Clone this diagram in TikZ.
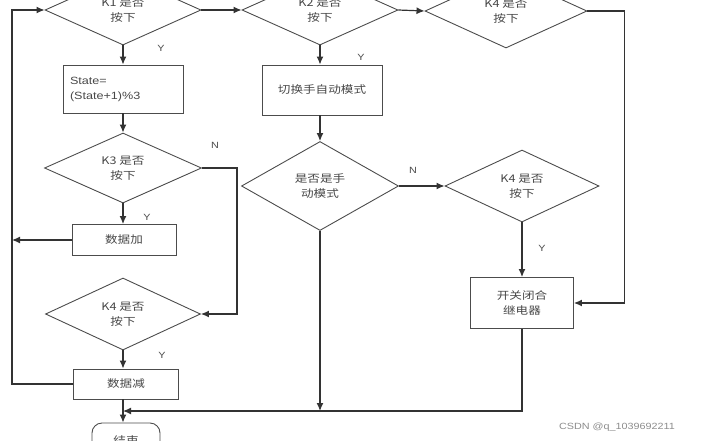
\documentclass[tikz,border=0pt]{standalone}
\usepackage{fontspec}
\setmainfont{Liberation Sans}[FakeStretch=1.2]
\newfontfamily\cjk{Noto Sans CJK SC}[FakeStretch=1.2]
\usetikzlibrary{shapes.geometric,arrows.meta}
\begin{document}
\begin{tikzpicture}[x=1pt,y=-1pt,
  every node/.style={font=\fontsize{10.5}{15}\selectfont, text=black!72},
  dia/.style={draw=black!70, line width=0.9pt, diamond, inner sep=0pt, align=center},
  boxn/.style={draw=black!70, line width=0.9pt, rectangle, inner sep=0pt, align=center},
  arr/.style={draw=black!80, line width=1.2pt, -{Latex[length=8pt,width=7pt]}},
  ln/.style={draw=black!80, line width=1.2pt},
  lab/.style={font=\fontsize{9}{10}\selectfont, text=black!70}]
\useasboundingbox (0,0) rectangle (705,440);
\clip (0,0) rectangle (705,440);
% top row
\node[dia, minimum width=156pt, minimum height=70pt] (d1) at (123,10) {\cjk K1 是否\\\cjk 按下};
\node[dia, minimum width=156pt, minimum height=70pt] (d2) at (320,10) {\cjk K2 是否\\\cjk 按下};
\node[dia, minimum width=162pt, minimum height=74pt] (d3) at (506,11) {\cjk K4 是否\\\cjk 按下};
% left column
\node[boxn, minimum width=120pt, minimum height=48pt, text width=106pt, align=left] (b1) at (123,89) {State=\\(State+1)\%3};
\node[dia, minimum width=157pt, minimum height=70pt] (d4) at (123,168) {\cjk K3 是否\\\cjk 按下};
\node[boxn, minimum width=104pt, minimum height=31pt] (b2) at (124,240) {\cjk 数据加};
\node[dia, minimum width=155pt, minimum height=72pt] (d5) at (123,314) {\cjk K4 是否\\\cjk 按下};
\node[boxn, minimum width=105pt, minimum height=30pt] (b3) at (126,384) {\cjk 数据减};
\node[boxn, rounded corners=10pt, minimum width=68pt, minimum height=34pt] (e) at (126,440) {\cjk 结束};
% middle column
\node[boxn, minimum width=120pt, minimum height=50pt] (b4) at (322,90) {\cjk 切换手自动模式};
\node[dia, minimum width=157pt, minimum height=89pt] (d6) at (320,186) {\cjk 是否是手\\\cjk 动模式};
% right column
\node[dia, minimum width=154pt, minimum height=72pt] (d7) at (522,186) {\cjk K4 是否\\\cjk 按下};
\node[boxn, minimum width=103pt, minimum height=51pt] (b5) at (522,303) {\cjk 开关闭合\\\cjk 继电器};
% helper coordinates
\coordinate (lx) at (12,10);
\coordinate (j) at (123,411);
% connectors
\draw[arr] (d1.east) -- (d2.west);
\draw[arr] (d2.east) -- (d3.west);
\draw[arr] (d1.south) -- (b1.north);
\draw[arr] (b1.south) -- (d4.north);
\draw[arr] (d4.south) -- (d4.south |- b2.north);
\draw[arr] (d4.east) -- ++(35,0) |- (d5.east);
\draw[arr] (b2.west) -- (b2.west -| lx);
\draw[arr] (d5.south) -- (d5.south |- b3.north);
\draw[arr] (b3.west) -| (lx) -- (d1.west);
\draw[arr] (b3.south -| j) -- (e.north -| j);
\draw[arr] (d2.south) -- (d2.south |- b4.north);
\draw[arr] (b4.south -| d6.north) -- (d6.north);
\draw[arr] (d6.east) -- (d7.west);
\draw[arr] (d7.south) -- (b5.north);
\draw[arr] (d3.east) -- ++(37,0) |- (b5.east);
\draw[arr] (d6.south) -- (d6.south |- j);
\draw[arr] (b5.south) |- (j);
% labels
\node[lab] (y1) at (161,48) {Y};
\node[lab] (n1) at (215,145) {N};
\node[lab] (y2) at (147,217) {Y};
\node[lab] (y3) at (162,355) {Y};
\node[lab] (y4) at (361,57) {Y};
\node[lab] (n2) at (413,170) {N};
\node[lab] (y5) at (542,248) {Y};
\node[font=\fontsize{9}{10}\selectfont, text=black!45] (wm) at (617,427) {CSDN @q\_1039692211};
\end{tikzpicture}
\end{document}
